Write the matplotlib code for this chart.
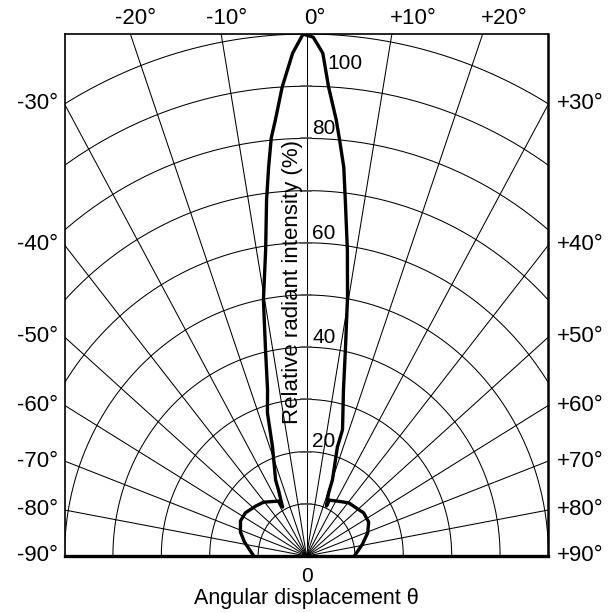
import matplotlib.pyplot as plt
import numpy as np

plt.rcParams["font.family"] = ["Liberation Sans", "DejaVu Sans"]

# radiation pattern: angle (deg) and relative intensity (%)
lobe_angle = [-90, -78.2, -71.4, -63.8, -56.8, -47.7, -40.7, -28.8, -27.8, -24.6,
              -23.7, -18.6, -16.4, -14.2, -12.1, -10.3, -8.2, -6.9, -6.0, -5.2,
              -4.4, -3.2, -1.7, -0.4, 0.8, 2.0, 2.9, 4.2, 4.9, 5.9,
              6.7, 8.2, 9.7, 11.5, 13.5, 17.1, 17.0, 20.2, 20.7, 23.3,
              23.9, 31.3, 40.5, 55.0, 63.1, 70.7, 78.8, 90]
lobe_intensity = [10.9, 13.1, 14.4, 15.2, 15.1, 14.2, 13.6, 12.0, 10.6, 13.9,
                  15.9, 22.0, 28.6, 32.8, 40.4, 49.8, 59.2, 68.7, 74.9, 80.4,
                  83.8, 90.0, 96.4, 100.0, 99.4, 96.4, 90.0, 83.8, 80.0, 74.9,
                  68.7, 59.2, 50.3, 40.3, 32.7, 25.3, 21.8, 15.5, 12.9, 10.4,
                  11.7, 12.3, 13.4, 14.4, 14.4, 13.4, 11.8, 9.9]

grid_radii = [10, 20, 30, 40, 50, 60, 70, 80, 90, 100]
ray_angles = list(range(-90, 91, 10))
top_angles = [-20, -10, 0, 10, 20]
top_labels = ["-20°", "-10°", "0°", "+10°", "+20°"]
side_angles = [30, 40, 50, 60, 70, 80, 90]
radius_labels = ["20", "40", "60", "80", "100"]
radius_values = [20, 40, 60, 80, 100]

fig = plt.figure(figsize=(6.11, 6.13), dpi=100)
ax = fig.add_axes([0.1056, 0.093, 0.7921, 0.8515])
ax.set_xlim(-50, 50)
ax.set_ylim(0, 100)
ax.set_xticks([])
ax.set_yticks([])

# grid circles
t = np.radians(np.linspace(-90, 90, 361))
for r in grid_radii:
    ax.plot(r * np.sin(t), r * np.cos(t), color="black", lw=0.75, zorder=1)

# rays
for a in ray_angles:
    ar = np.radians(a)
    ax.plot([0, 200 * np.sin(ar)], [0, 200 * np.cos(ar)], color="black", lw=0.75, zorder=1)

# small ticks on the centre axis
for r in grid_radii[:-1]:
    ax.plot([-1.2, 1.0], [r, r], color="#555555", lw=1.2, zorder=2)

# the lobe
la = np.radians(lobe_angle)
li = np.array(lobe_intensity)
ax.plot(li * np.sin(la), li * np.cos(la), color="black", lw=2.4,
        solid_joinstyle="round", zorder=3)

# spines
for s in ["left", "top"]:
    ax.spines[s].set_linewidth(1.2)
ax.spines["right"].set_linewidth(1.8)
ax.spines["bottom"].set_linewidth(2.4)

# radius labels on the axis
for lab, r in zip(radius_labels, radius_values):
    if r == 100:
        ax.text(4.3, 93.3, lab, fontsize=15, ha="left", va="baseline")
    else:
        ax.text(1.2, r + 0.8, lab, fontsize=15, ha="left", va="baseline")

# angle labels along the top
for a, lab in zip(top_angles, top_labels):
    x = 100 * np.tan(np.radians(a)) - (3.2 if a < 0 else 0.4)
    ax.text(x, 103.0, lab, fontsize=16, ha="left", va="center", clip_on=False)

# angle labels on the sides
for a in side_angles:
    y = 50 / np.tan(np.radians(a))
    ax.text(-51.3, y, "-%d°" % a, fontsize=16, ha="right", va="center", clip_on=False)
    ax.text(51.7, y, "+%d°" % a, fontsize=16, ha="left", va="center", clip_on=False)

ax.text(0, -4.0, "0", fontsize=15, ha="center", va="center", clip_on=False)
ax.text(0, -8.2, "Angular displacement θ", fontsize=15.5, ha="center", va="center",
        clip_on=False)
ax.text(-2.8, 52.5, "Relative radiant intensity (%)", fontsize=16, rotation=90,
        ha="center", va="center")

fig.savefig("out.png", dpi=100)
